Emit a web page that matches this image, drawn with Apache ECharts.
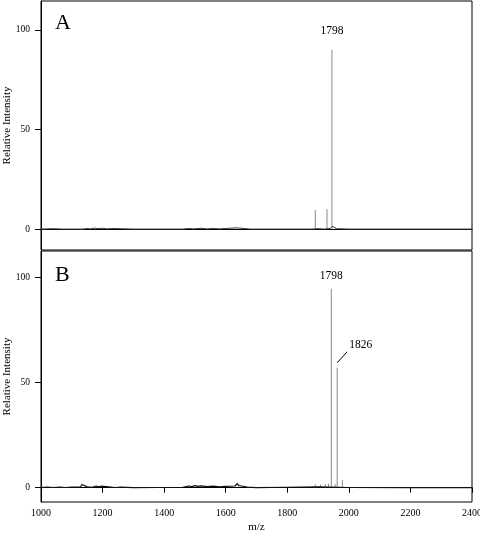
<!DOCTYPE html>
<html>
<head>
<meta charset="utf-8">
<script src="https://cdn.jsdelivr.net/npm/echarts@6/dist/echarts.min.js"></script>
<style>
  html, body { margin: 0; padding: 0; background: #fff; }
  #main { width: 480px; height: 539px; }
</style>
</head>
<body>
<div id="main"></div>
<script>
// x axis (m/z) and y axis ticks
var mzMin = 1000, mzMax = 2400, mzStep = 200;
var yTicks = [0, 50, 100];

// panel A - baseline trace [m/z, intensity]
var baseA = [
  [1000, 0], [1040, 0.2], [1070, 0], [1128, 0], [1133, 0.8], [1137, 0], [1150, 0.3], [1160, 0.1],
  [1175, 0.5], [1185, 0.2], [1200, 0.4], [1215, 0.1], [1230, 0.3], [1300, 0], [1460, 0],
  [1480, 0.3], [1495, 0.1], [1520, 0.4], [1540, 0.1], [1560, 0.3], [1580, 0.1], [1600, 0.3],
  [1634, 0.6], [1640, 1.3], [1645, 0.5], [1650, 1.0], [1660, 0.3], [1680, 0], [1880, 0],
  [1900, 0.2], [1920, 0], [1940, 0.3], [1946, 1.4], [1950, 0.5], [1960, 0.2], [2000, 0], [2400, 0]
];
// panel A - peaks
var peakMzA = [1891, 1929, 1945];
var peakIntA = [9.5, 10, 90];
var peakLabelA = ['', '', '1798'];

// panel B - baseline trace
var baseB = [
  [1000, 0], [1020, 0.3], [1040, 0.1], [1060, 0.3], [1080, 0.1], [1100, 0.3], [1128, 0.3],
  [1133, 1.5], [1137, 0.6], [1150, 0.4], [1165, 0.2], [1180, 0.8], [1188, 0.4], [1195, 0.7],
  [1220, 0.4], [1240, 0.1], [1260, 0.3], [1300, 0], [1460, 0.2], [1480, 0.8], [1490, 0.5],
  [1500, 1.0], [1510, 0.6], [1520, 0.9], [1540, 0.5], [1560, 0.7], [1580, 0.4], [1600, 0.6],
  [1630, 0.8], [1638, 2.0], [1642, 1.0], [1646, 1.8], [1652, 0.8], [1670, 0.3], [1700, 0],
  [1800, 0.2], [1900, 0.4], [2000, 0.1], [2200, 0], [2400, 0]
];
// panel B - peaks
var peakMzB = [1891, 1908, 1924, 1934, 1943, 1956, 1962, 1979];
var peakIntB = [1.6, 1.4, 1.7, 1.8, 94.5, 1.6, 57, 3.7];
var peakLabelB = ['', '', '', '', '1798', '', '1826', ''];

var serif = '"Liberation Serif", "DejaVu Serif", serif';

// label placement, px relative to the peak top
var labelPos = {
  '0-1798': { dy: -19 },
  '1-1798': { dy: -13 },
  '1-1826': { leader: true }
};

function peakData(mz, val, lab) {
  var out = [];
  for (var i = 0; i < mz.length; i++) out.push([mz[i], val[i], lab[i]]);
  return out;
}

// series index -> label list (series 1 = peaks A, series 3 = peaks B)
var peakLabelsByPanel = { 1: peakLabelA, 3: peakLabelB };

function renderPeak(params, api) {
  var x = api.value(0), h = api.value(1);
  var lab = peakLabelsByPanel[params.seriesIndex][params.dataIndex];
  var top = api.coord([x, h]);
  var base = api.coord([x, 0]);
  var children = [{
    type: 'line',
    shape: { x1: top[0], y1: top[1], x2: base[0], y2: base[1] },
    style: { stroke: '#8a8a8a', lineWidth: 1 }
  }];
  if (lab) {
    var panel = params.seriesIndex === 1 ? 0 : 1;
    var pos = labelPos[panel + '-' + lab] || { dy: -14 };
    if (pos.leader) {
      children.push({
        type: 'line',
        shape: { x1: top[0], y1: top[1] - 5, x2: top[0] + 10, y2: top[1] - 16 },
        style: { stroke: '#000', lineWidth: 1 }
      });
      children.push({
        type: 'text',
        style: { text: lab, x: top[0] + 12, y: top[1] - 23, align: 'left', verticalAlign: 'middle',
                 fontSize: 11.5, fontFamily: serif, fill: '#000' }
      });
    } else {
      children.push({
        type: 'text',
        style: { text: lab, x: top[0], y: top[1] + pos.dy, align: 'center', verticalAlign: 'middle',
                 fontSize: 11.5, fontFamily: serif, fill: '#000' }
      });
    }
  }
  return { type: 'group', children: children };
}

function plain(v) { return String(v); }

function yAxis(gridIndex, min, max) {
  return {
    type: 'value', gridIndex: gridIndex, min: min, max: max,
    name: 'Relative Intensity', nameLocation: 'middle', nameGap: 28, nameMoveOverlap: false,
    nameTextStyle: { fontFamily: serif, fontSize: 11, color: '#000' },
    axisLine: { show: true, lineStyle: { color: '#000', width: 1 } },
    axisTick: { show: true, customValues: yTicks, length: 6, lineStyle: { color: '#000' } },
    axisLabel: { customValues: yTicks, formatter: plain, fontFamily: serif, fontSize: 9.5, color: '#000', margin: 11 },
    splitLine: { show: false }
  };
}

var chart = echarts.init(document.getElementById('main'), null, { renderer: 'canvas' });

var option = {
  backgroundColor: '#fff',
  animation: false,
  title: [
    { text: 'A', left: 50, top: 7, textStyle: { fontFamily: serif, fontSize: 22, fontWeight: 'normal', color: '#000' } },
    { text: 'B', left: 50, top: 259, textStyle: { fontFamily: serif, fontSize: 22, fontWeight: 'normal', color: '#000' } }
  ],
  grid: [
    { left: 41, right: 8, top: 1, height: 249, show: true, borderColor: '#000', borderWidth: 1, outerBoundsMode: 'none', containLabel: false },
    { left: 41, right: 8, top: 251, height: 251, show: true, borderColor: '#000', borderWidth: 1, outerBoundsMode: 'none', containLabel: false }
  ],
  xAxis: [
    {
      type: 'value', gridIndex: 0, min: mzMin, max: mzMax, interval: mzStep,
      axisLine: { show: true, lineStyle: { color: '#000' } },
      axisTick: { show: false }, axisLabel: { show: false }, splitLine: { show: false }
    },
    {
      type: 'value', gridIndex: 1, min: mzMin, max: mzMax, interval: mzStep,
      name: 'm/z', nameLocation: 'middle', nameGap: 20, nameMoveOverlap: false,
      nameTextStyle: { fontFamily: serif, fontSize: 11, color: '#000' },
      axisLine: { show: true, lineStyle: { color: '#000' } },
      axisTick: { show: true, length: 5, lineStyle: { color: '#000' } },
      axisLabel: { formatter: plain, fontFamily: serif, fontSize: 10, color: '#000', margin: 6 },
      splitLine: { show: false }
    }
  ],
  yAxis: [yAxis(0, -10.5, 114.5), yAxis(1, -6.8, 112.5)],
  series: [
    {
      type: 'line', xAxisIndex: 0, yAxisIndex: 0, data: baseA, showSymbol: false,
      lineStyle: { color: '#333', width: 1 }, z: 3
    },
    {
      type: 'custom', xAxisIndex: 0, yAxisIndex: 0,
      data: peakData(peakMzA, peakIntA, peakLabelA), renderItem: renderPeak, z: 2
    },
    {
      type: 'line', xAxisIndex: 1, yAxisIndex: 1, data: baseB, showSymbol: false,
      lineStyle: { color: '#111', width: 1.2 }, z: 3
    },
    {
      type: 'custom', xAxisIndex: 1, yAxisIndex: 1,
      data: peakData(peakMzB, peakIntB, peakLabelB), renderItem: renderPeak, z: 2
    }
  ]
};

chart.setOption(option);
</script>
</body>
</html>
